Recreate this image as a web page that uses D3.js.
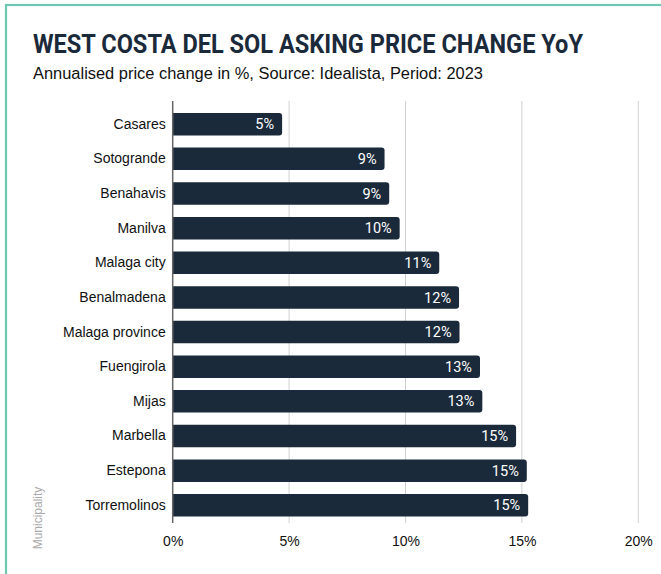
<!DOCTYPE html>
<html>
<head>
<meta charset="utf-8">
<script src="https://cdn.jsdelivr.net/npm/d3@7"></script>
<style>
  html, body { margin: 0; padding: 0; background: #fff; }
  svg { display: block; }
</style>
</head>
<body>
<svg id="chart" width="661" height="574"></svg>
<script>
const categories = ["Casares","Sotogrande","Benahavis","Manilva","Malaga city","Benalmadena","Malaga province","Fuengirola","Mijas","Marbella","Estepona","Torremolinos"];
const values = [4.7, 9.1, 9.3, 9.75, 11.45, 12.3, 12.32, 13.2, 13.3, 14.75, 15.21, 15.27];
const tickValues = [0, 5, 10, 15, 20];
const titleText = "WEST COSTA DEL SOL ASKING PRICE CHANGE YoY";
const subtitleText = "Annualised price change in %, Source: Idealista, Period: 2023";
const axisTitle = "Municipality";

const svg = d3.select("#chart");
const barColor = "#1b2a3b";

// border (teal, top & left visible)
svg.append("rect").attr("x", 6).attr("y", 5).attr("width", 700).attr("height", 700)
  .attr("fill", "none").attr("stroke", "#6cc8b0").attr("stroke-width", 2.2);

// title & subtitle
svg.append("text").attr("x", 33).attr("y", 53).text(titleText)
  .attr("font-family", "Roboto, sans-serif").attr("font-weight", 700).attr("font-size", 25.5)
  .attr("fill", "#1b2a3b").attr("textLength", 550).attr("lengthAdjust", "spacingAndGlyphs");
svg.append("text").attr("x", 33).attr("y", 79).text(subtitleText)
  .attr("font-family", "'Liberation Sans', Arial, sans-serif").attr("font-size", 16)
  .attr("fill", "#111").attr("textLength", 450).attr("lengthAdjust", "spacingAndGlyphs");

const x = d3.scaleLinear().domain([0, 20]).range([172.7, 638.3]);
const y = d3.scaleBand().domain(categories).range([106.9, 522.6]).paddingInner(0.35).paddingOuter(0.175);

// gridlines
svg.append("g").selectAll("line").data(tickValues.slice(1)).join("line")
  .attr("x1", d => x(d)).attr("x2", d => x(d)).attr("y1", 101).attr("y2", 523)
  .attr("stroke", "#d0d0d0").attr("stroke-width", 1);

// x axis tick labels
const xAxis = d3.axisBottom(x).tickValues(tickValues).tickFormat(d => d + "%").tickSize(0).tickPadding(0);
const gx = svg.append("g").attr("transform", "translate(0,536)").call(xAxis);
gx.select(".domain").remove();
gx.selectAll("text").attr("font-family", "'Liberation Sans', Arial, sans-serif").attr("font-size", 14).attr("fill", "#111");

// bars with rounded right corners
const r = 3;
function barPath(v, cat) {
  const x0 = x(0), x1 = x(v), y0 = y(cat), h = y.bandwidth();
  return `M${x0},${y0}H${x1 - r}Q${x1},${y0} ${x1},${y0 + r}V${y0 + h - r}Q${x1},${y0 + h} ${x1 - r},${y0 + h}H${x0}Z`;
}
svg.append("g").selectAll("path").data(categories).join("path")
  .attr("d", (c, i) => barPath(values[i], c)).attr("fill", barColor);

// value labels
svg.append("g").selectAll("text").data(categories).join("text")
  .attr("x", (c, i) => x(values[i]) - 8)
  .attr("y", c => y(c) + y.bandwidth() / 2)
  .attr("dy", "0.35em").attr("text-anchor", "end")
  .attr("font-family", "Roboto, sans-serif").attr("font-size", 14.5).attr("fill", "#fff")
  .text((c, i) => Math.round(values[i]) + "%");

// y axis category labels
const yAxis = d3.axisLeft(y).tickSize(0).tickPadding(7);
const gy = svg.append("g").attr("transform", `translate(${x(0)},0)`).call(yAxis);
gy.select(".domain").remove();
gy.selectAll("text").attr("font-family", "'Liberation Sans', Arial, sans-serif").attr("font-size", 14).attr("fill", "#111");

// axis line
svg.append("line").attr("x1", x(0)).attr("x2", x(0)).attr("y1", 101).attr("y2", 523)
  .attr("stroke", "#666").attr("stroke-width", 1.5);

// axis title
svg.append("text").attr("transform", "translate(42,518) rotate(-90)")
  .attr("text-anchor", "middle").attr("font-family", "'Liberation Sans', Arial, sans-serif")
  .attr("font-size", 12).attr("fill", "#aaa").text(axisTitle);
</script>
</body>
</html>
